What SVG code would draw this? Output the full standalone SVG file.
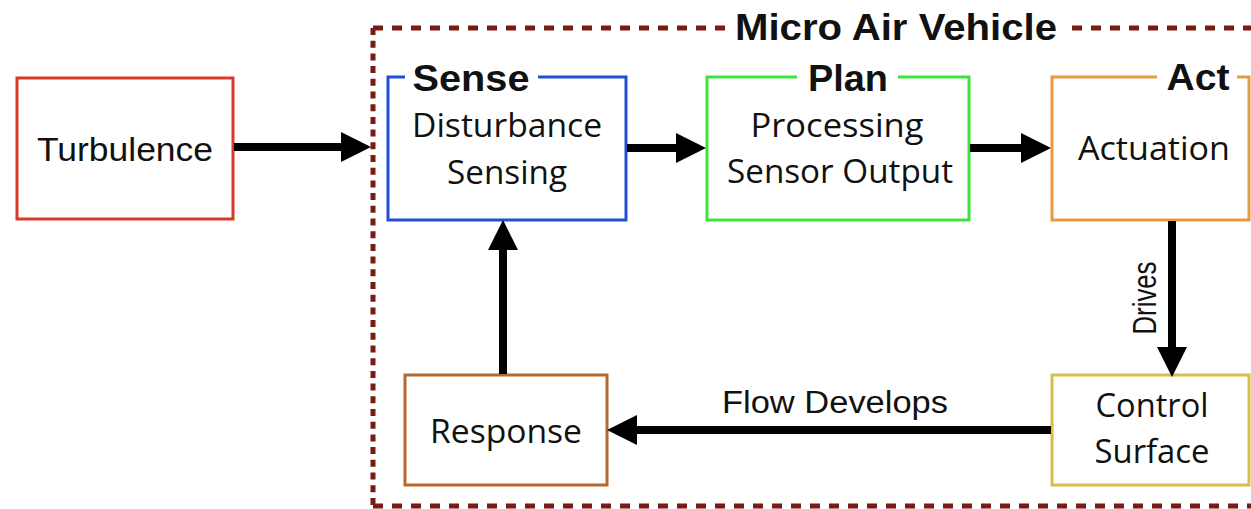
<svg xmlns="http://www.w3.org/2000/svg" width="1251" height="509" viewBox="0 0 1251 509">
<style>
.box{fill:#fff;stroke-width:3}
.t{font-family:"Open Sans","Noto Sans",sans-serif;font-size:32px;fill:#111;text-anchor:middle}
.h{font-family:"Liberation Sans",Arial,sans-serif;font-size:33px;fill:#111;text-anchor:middle}
.b{font-family:"Liberation Sans",Arial,sans-serif;font-weight:bold;font-size:36px;fill:#111;text-anchor:middle}
.c{stroke:#000;stroke-width:8;fill:none}
.fr{stroke:#7b1a12;stroke-width:5;fill:none}
</style>
<defs>
<marker id="ah" markerUnits="userSpaceOnUse" markerWidth="30" markerHeight="30" viewBox="0 0 28 28" refX="0" refY="14" orient="auto">
<path d="M0,0 L28,14 L0,28 Z" fill="#000"/>
</marker>
</defs>
<rect width="1251" height="509" fill="#fff"/>
<g id="frame">
<line class="fr" x1="373" y1="28" x2="725" y2="28" stroke-dasharray="10 9"/>
<line class="fr" x1="1072" y1="28" x2="1251" y2="28" stroke-dasharray="10 9"/>
<line class="fr" x1="373" y1="28" x2="373" y2="507" stroke-dasharray="7 5.7"/>
<line class="fr" x1="373" y1="506" x2="1251" y2="506" stroke-dasharray="10 9"/>
<text class="b" x="896" y="40" textLength="322" lengthAdjust="spacingAndGlyphs">Micro Air Vehicle</text>
</g>
<g id="turbulence">
<rect class="box" x="17" y="78" width="216" height="141" stroke="#d63a2a"/>
<text class="h" x="125" y="161" textLength="176" lengthAdjust="spacingAndGlyphs">Turbulence</text>
</g>
<g id="sense">
<rect class="box" x="388" y="77" width="238" height="143" stroke="#1e4fd6"/>
<rect x="405" y="70" width="133" height="14" fill="#fff"/>
<text class="b" x="471" y="91" textLength="117" lengthAdjust="spacingAndGlyphs">Sense</text>
<text class="t" x="507" y="137" textLength="190" lengthAdjust="spacingAndGlyphs">Disturbance</text>
<text class="t" x="507" y="184" textLength="120" lengthAdjust="spacingAndGlyphs">Sensing</text>
</g>
<g id="plan">
<rect class="box" x="707" y="77" width="262" height="143" stroke="#3de23d"/>
<rect x="797" y="70" width="101" height="14" fill="#fff"/>
<text class="b" x="848" y="91" textLength="80" lengthAdjust="spacingAndGlyphs">Plan</text>
<text class="t" x="837" y="137" textLength="173" lengthAdjust="spacingAndGlyphs">Processing</text>
<text class="t" x="840" y="183" textLength="226" lengthAdjust="spacingAndGlyphs">Sensor Output</text>
</g>
<g id="act">
<rect class="box" x="1052" y="77" width="197" height="143" stroke="#e59a45"/>
<rect x="1157" y="70" width="80" height="14" fill="#fff"/>
<text class="b" x="1198" y="90" textLength="63" lengthAdjust="spacingAndGlyphs">Act</text>
<text class="t" x="1154" y="160" textLength="152" lengthAdjust="spacingAndGlyphs">Actuation</text>
</g>
<g id="control-surface">
<rect class="box" x="1052" y="375" width="197" height="110" stroke="#d6bf45"/>
<text class="t" x="1152" y="417" textLength="113" lengthAdjust="spacingAndGlyphs">Control</text>
<text class="t" x="1152" y="463" textLength="115" lengthAdjust="spacingAndGlyphs">Surface</text>
</g>
<g id="response">
<rect class="box" x="405" y="375" width="202" height="110" stroke="#b5692f"/>
<text class="t" x="506" y="443" textLength="152" lengthAdjust="spacingAndGlyphs">Response</text>
</g>
<g id="connectors">
<line class="c" x1="234" y1="147" x2="341" y2="147" marker-end="url(#ah)"/>
<line class="c" x1="627" y1="148" x2="676" y2="148" marker-end="url(#ah)"/>
<line class="c" x1="970" y1="148" x2="1021" y2="148" marker-end="url(#ah)"/>
<line class="c" x1="1172" y1="221" x2="1172" y2="347" marker-end="url(#ah)"/>
<line class="c" x1="1051" y1="430" x2="637" y2="430" marker-end="url(#ah)"/>
<line class="c" x1="503" y1="374" x2="503" y2="250" marker-end="url(#ah)"/>
<text class="h" transform="translate(1156,298) rotate(-90)" x="0" y="0" textLength="73" lengthAdjust="spacingAndGlyphs" style="font-size:34px">Drives</text>
<text class="h" x="835" y="413" textLength="226" lengthAdjust="spacingAndGlyphs" style="font-size:31px">Flow Develops</text>
</g>
</svg>
